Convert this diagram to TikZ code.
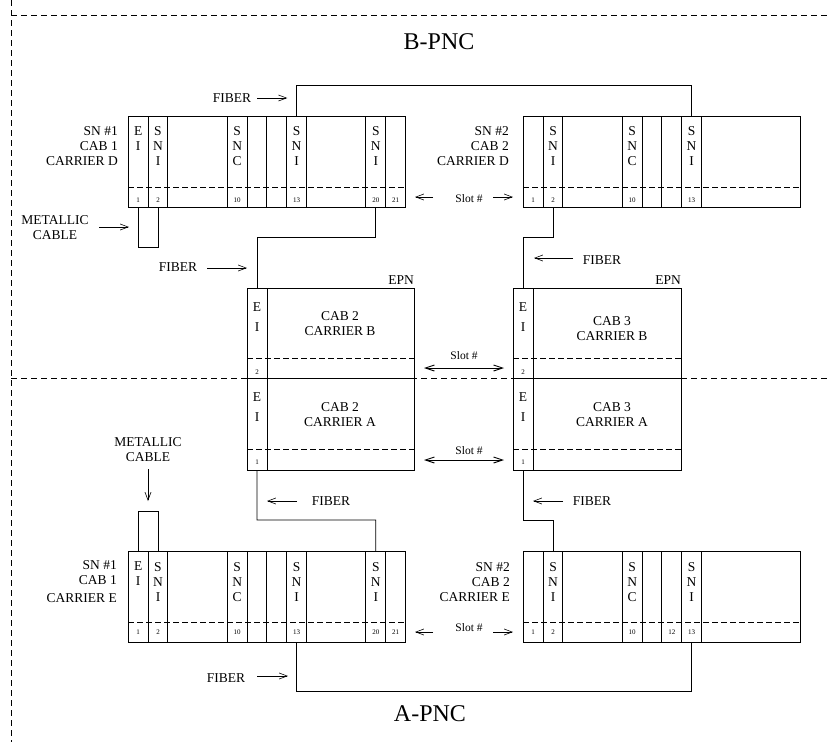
\documentclass[tikz,border=0pt]{standalone}
\usepackage{fontspec}
\setmainfont{Liberation Serif}
\usetikzlibrary{arrows.meta}
\newcommand{\lbsize}{\fontsize{13.5}{15}\selectfont}
\newcommand{\epsize}{\fontsize{13.5}{20}\selectfont}
\newcommand{\nosize}{\fontsize{7}{8}\selectfont}
\newcommand{\slsize}{\fontsize{11.5}{13}\selectfont}

\tikzset{
  box/.style={draw, line width=0.9pt},
  slotdash/.style={line width=0.8pt, dash pattern=on 5.5pt off 3.5pt},
  part/.style={line width=0.7pt, dash pattern=on 6pt off 4pt},
  fiber/.style={line width=0.8pt},
  pointer/.style={-{Straight Barb[length=8pt,width=6pt]}, line width=0.6pt},
  twoway/.style={{Straight Barb[length=9pt,width=6pt]}-{Straight Barb[length=9pt,width=6pt]}, line width=0.9pt},
  lbl/.style={font=\lbsize, align=right, anchor=east, inner sep=0pt},
  txt/.style={font=\lbsize, align=center, inner sep=0pt},
  stack/.style={font=\lbsize, align=center, inner sep=0pt},
  epstack/.style={font=\epsize, align=center, inner sep=0pt},
  num/.style={font=\nosize, inner sep=0pt},
  slt/.style={font=\slsize, inner sep=0pt},
  big/.style={font=\fontsize{24}{26}\selectfont, inner sep=0pt}
}

\begin{document}
\begin{tikzpicture}[x=1pt, y=-1pt]
  \useasboundingbox (0,0) rectangle (828,742);

  % partitions
  \draw[part] (11,0) -- (11,742);
  \draw[part] (11,15) -- (828,15);
  \draw[part] (11,378) -- (828,378);
  \node[big] (bpnc) at (439,42) {B-PNC};
  \node[big] (apnc) at (430,714) {A-PNC};

  % SN #1, carrier D
  \begin{scope}[shift={(128.3,116)}]
    \draw[box] (0,0) rectangle (277.2,91);
    \foreach \k in {1,2,5,6,7,8,9,12,13} \draw[box] (\k*19.8,0) -- (\k*19.8,91);
    \draw[slotdash] (0,71) -- (277.2,71);
    \node[stack] (dl-ei) at (9.9,22.5) {E\\I};
    \foreach \k/\t [count=\i] in {1.5/{S\\N\\I},5.5/{S\\N\\C},8.5/{S\\N\\I},12.5/{S\\N\\I}}
      \node[stack] (dl-s\i) at (\k*19.8,30) {\t};
    \foreach \k/\n in {0.5/1,1.5/2,5.5/10,8.5/13,12.5/20,13.5/21}
      \node[num] (dl-n\n) at (\k*19.8,84) {\n};
    \coordinate (dl-1) at (0.5*19.8,91);
    \coordinate (dl-2) at (1.5*19.8,91);
    \coordinate (dl-13) at (8.5*19.8,0);
    \coordinate (dl-20) at (12.5*19.8,91);
  \end{scope}
  \node[lbl] (sn1d) at (118,146) {SN \#1\\CAB 1\\CARRIER D};

  % SN #2, carrier D
  \begin{scope}[shift={(523.3,116)}]
    \draw[box] (0,0) rectangle (277.2,91);
    \foreach \k in {1,2,5,6,7,8,9} \draw[box] (\k*19.8,0) -- (\k*19.8,91);
    \draw[slotdash] (0,71) -- (277.2,71);
    \foreach \k/\t [count=\i] in {1.5/{S\\N\\I},5.5/{S\\N\\C},8.5/{S\\N\\I}}
      \node[stack] (dr-s\i) at (\k*19.8,30) {\t};
    \foreach \k/\n in {0.5/1,1.5/2,5.5/10,8.5/13}
      \node[num] (dr-n\n) at (\k*19.8,84) {\n};
    \coordinate (dr-2) at (1.5*19.8,91);
    \coordinate (dr-13) at (8.5*19.8,0);
  \end{scope}
  \node[lbl] (sn2d) at (509,146) {SN \#2\\CAB 2\\CARRIER D};

  % SN #1, carrier E
  \begin{scope}[shift={(128.3,551)}]
    \draw[box] (0,0) rectangle (277.2,91);
    \foreach \k in {1,2,5,6,7,8,9,12,13} \draw[box] (\k*19.8,0) -- (\k*19.8,91);
    \draw[slotdash] (0,71) -- (277.2,71);
    \node[stack] (el-ei) at (9.9,22.5) {E\\I};
    \foreach \k/\t [count=\i] in {1.5/{S\\N\\I},5.5/{S\\N\\C},8.5/{S\\N\\I},12.5/{S\\N\\I}}
      \node[stack] (el-s\i) at (\k*19.8,31) {\t};
    \foreach \k/\n in {0.5/1,1.5/2,5.5/10,8.5/13,12.5/20,13.5/21}
      \node[num] (el-n\n) at (\k*19.8,81) {\n};
    \coordinate (el-1) at (0.5*19.8,0);
    \coordinate (el-2) at (1.5*19.8,0);
    \coordinate (el-13) at (8.5*19.8,91);
    \coordinate (el-20) at (12.5*19.8,0);
  \end{scope}
  \node[lbl] (sn1e) at (117,582) {SN \#1\\CAB 1\\[3pt]CARRIER E};

  % SN #2, carrier E
  \begin{scope}[shift={(523.3,551)}]
    \draw[box] (0,0) rectangle (277.2,91);
    \foreach \k in {1,2,5,6,7,8,9} \draw[box] (\k*19.8,0) -- (\k*19.8,91);
    \draw[slotdash] (0,71) -- (277.2,71);
    \foreach \k/\t [count=\i] in {1.5/{S\\N\\I},5.5/{S\\N\\C},8.5/{S\\N\\I}}
      \node[stack] (er-s\i) at (\k*19.8,31) {\t};
    \foreach \k/\n in {0.5/1,1.5/2,5.5/10,7.5/12,8.5/13}
      \node[num] (er-n\n) at (\k*19.8,81) {\n};
    \coordinate (er-2) at (1.5*19.8,0);
    \coordinate (er-13) at (8.5*19.8,91);
  \end{scope}
  \node[lbl] (sn2e) at (510,582) {SN \#2\\CAB 2\\CARRIER E};

  % EPN, cab 2
  \draw[box] (247,288) rectangle (414,470);
  \draw[box] (267,288) -- (267,470);
  \draw[box] (247,378) -- (414,378);
  \draw[slotdash] (247,358) -- (414,358);
  \draw[slotdash] (247,449) -- (414,449);
  \node[epstack] (c2b-ei) at (257,317) {E\\I};
  \node[epstack] (c2a-ei) at (257,407.5) {E\\I};
  \node[num] (c2b-n) at (257,372) {2};
  \node[num] (c2a-n) at (257,462) {1};
  \node[txt] (c2b) at (340,324) {CAB 2\\CARRIER B};
  \node[txt] (c2a) at (340,414.5) {CAB 2\\CARRIER A};
  \node[lbl] (epn2) at (414,280) {EPN};
  \coordinate (c2-top) at (257,288);
  \coordinate (c2-bot) at (257,470);

  % EPN, cab 3
  \draw[box] (513,288) rectangle (681,470);
  \draw[box] (533,288) -- (533,470);
  \draw[box] (513,378) -- (681,378);
  \draw[slotdash] (513,358) -- (681,358);
  \draw[slotdash] (513,449) -- (681,449);
  \node[epstack] (c3b-ei) at (523,317) {E\\I};
  \node[epstack] (c3a-ei) at (523,407.5) {E\\I};
  \node[num] (c3b-n) at (523,372) {2};
  \node[num] (c3a-n) at (523,462) {1};
  \node[txt] (c3b) at (612,329) {CAB 3\\CARRIER B};
  \node[txt] (c3a) at (612,414.5) {CAB 3\\CARRIER A};
  \node[lbl] (epn3) at (681,280) {EPN};
  \coordinate (c3-top) at (523,288);
  \coordinate (c3-bot) at (523,470);

  % fibers
  \draw[fiber] (dl-13) -- ++(0,-31) -| (dr-13);
  \draw[fiber] (dl-20) |- (257,237) -- (c2-top);
  \draw[fiber] (dr-2) |- (523,237) -- (c3-top);
  \draw[fiber] (c2-bot) |- (375.8,520) -- (el-20);
  \draw[fiber] (c3-bot) |- (553,520) -- (er-2);
  \draw[fiber] (el-13) -- ++(0,49) -| (er-13);

  % metallic cables
  \draw[fiber] (dl-1) -- ++(0,40) -| (dl-2);
  \draw[fiber] (el-1) -- ++(0,-40) -| (el-2);

  % labels and pointers
  \node[txt] (fb1) at (232,98) {FIBER};
  \draw[pointer] (fb1.east) ++(6,0) coordinate (fb1a) -- ++(30,0);
  \node[txt] (fb2) at (178,267) {FIBER};
  \draw[pointer] (207,268) -- (247,268);
  \node[txt] (fb3) at (602,260) {FIBER};
  \draw[pointer] (573,258) -- (534,258);
  \node[txt] (fb4) at (331,501) {FIBER};
  \draw[pointer] (297,501) -- (267,501);
  \node[txt] (fb5) at (592,501) {FIBER};
  \draw[pointer] (563,501) -- (533,501);
  \node[txt] (fb6) at (226,678) {FIBER};
  \draw[pointer] (257,676) -- (288,676);

  \node[txt] (mc1) at (55,228) {METALLIC\\CABLE};
  \draw[pointer] (99,227) -- (129,227);
  \node[txt] (mc2) at (148,449.5) {METALLIC\\CABLE};
  \draw[pointer] (148,469) -- (148,501);

  \node[slt] (sl1) at (469,199) {Slot \#};
  \draw[pointer] (433,197) -- (415,197);
  \draw[pointer] (493,197) -- (513,197);
  \node[slt] (sl2) at (464,356) {Slot \#};
  \draw[twoway] (424,368) -- (504,368);
  \node[slt] (sl3) at (469,451) {Slot \#};
  \draw[twoway] (424,460) -- (504,460);
  \node[slt] (sl4) at (469,628) {Slot \#};
  \draw[pointer] (433,632) -- (415,632);
  \draw[pointer] (493,632) -- (513,632);
\end{tikzpicture}
\end{document}
